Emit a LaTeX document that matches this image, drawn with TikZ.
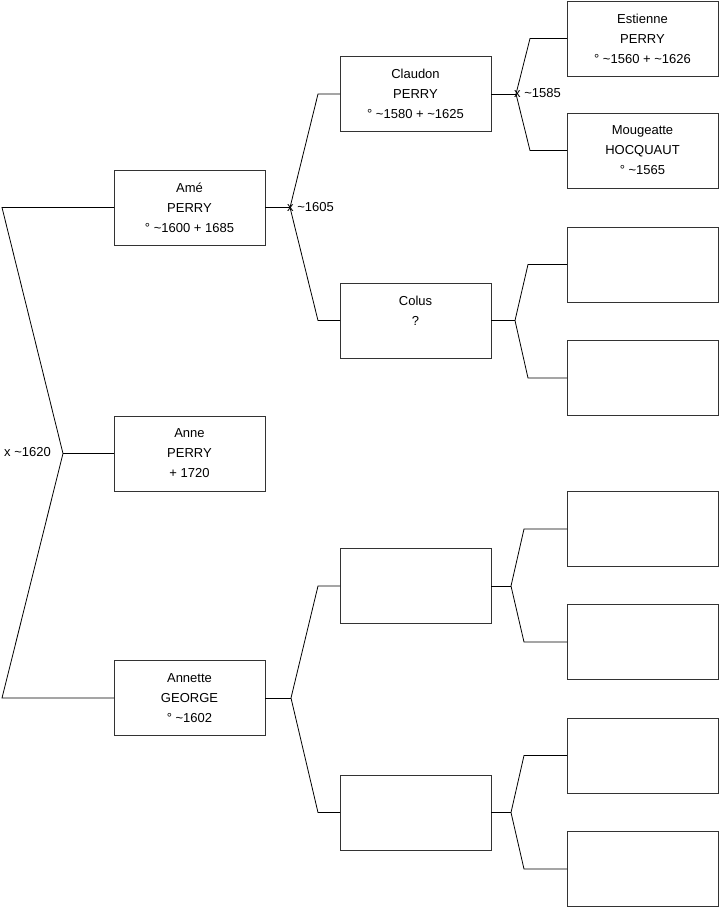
\documentclass[tikz,border=0pt]{standalone}
\usepackage{fontspec}
\setmainfont{Liberation Sans}
\usetikzlibrary{positioning}

\newcommand{\circa}{\textasciitilde}

\begin{document}
\begin{tikzpicture}[x=1pt, y=-1pt,
    person/.style={draw=black!80, line width=0.8pt, minimum width=151pt, minimum height=75pt,
        inner sep=0pt, outer sep=0pt, align=center, font=\fontsize{13}{20}\selectfont},
    link/.style={draw=black, line width=0.8pt},
    union/.style={inner sep=0pt, font=\fontsize{13}{15}\selectfont}]
    \useasboundingbox (0,0) rectangle (719,908);

    % Generation 1
    \node[person] (ame) at (189.5,207.5) {Amé\\PERRY\\° \circa1600 + 1685};
    \node[person] (anne) at (189.5,453.5) {Anne\\PERRY\\+ 1720};
    \node[person] (annette) at (189.5,698) {Annette\\GEORGE\\° \circa1602};

    % Generation 2
    \node[person] (claudon) at (415.5,94) {Claudon\\PERRY\\° \circa1580 + \circa1625};
    \node[person] (colus) at (415.5,320.5) {Colus\\?\\\mbox{}};
    \node[person] (gp3) at (415.5,586) {};
    \node[person] (gp4) at (415.5,812.5) {};

    % Generation 3
    \node[person] (estienne) at (642.5,38.5) {Estienne\\PERRY\\° \circa1560 + \circa1626};
    \node[person] (mougeatte) at (642.5,150.5) {Mougeatte\\HOCQUAUT\\° \circa1565};
    \node[person] (ggp3) at (642.5,264.5) {};
    \node[person] (ggp4) at (642.5,378) {};
    \node[person] (ggp5) at (642.5,529) {};
    \node[person] (ggp6) at (642.5,642) {};
    \node[person] (ggp7) at (642.5,755.5) {};
    \node[person] (ggp8) at (642.5,869) {};

    % Marriages
    \coordinate (m0) at (63,453.5);
    \draw[link] (ame.west) -- ++(-112,0) -- (m0) -- ([xshift=-112pt]annette.west) -- (annette.west);
    \draw[link] (m0) -- (anne.west);
    \node[union, anchor=east] (u0) at (51,452) {x \circa1620};

    \coordinate (m1) at ([xshift=25pt]ame.east);
    \draw[link] (ame.east) -- (m1);
    \draw[link] (claudon.west) -- ++(-22,0) -- (m1) -- ([xshift=-22pt]colus.west) -- (colus.west);
    \node[union, anchor=west] (u1) at (287,207) {x \circa1605};

    \coordinate (m2) at ([xshift=25pt]claudon.east);
    \draw[link] (claudon.east) -- (m2);
    \draw[link] (estienne.west) -- ++(-37,0) -- (m2) -- ([xshift=-37pt]mougeatte.west) -- (mougeatte.west);
    \node[union, anchor=west] (u2) at (514,93) {x \circa1585};

    \coordinate (m3) at ([xshift=24pt]colus.east);
    \draw[link] (colus.east) -- (m3);
    \draw[link] (ggp3.west) -- ++(-39,0) -- (m3) -- ([xshift=-39pt]ggp4.west) -- (ggp4.west);

    \coordinate (m4) at ([xshift=26pt]annette.east);
    \draw[link] (annette.east) -- (m4);
    \draw[link] (gp3.west) -- ++(-22,0) -- (m4) -- ([xshift=-22pt]gp4.west) -- (gp4.west);

    \coordinate (m5) at ([xshift=20pt]gp3.east);
    \draw[link] (gp3.east) -- (m5);
    \draw[link] (ggp5.west) -- ++(-43,0) -- (m5) -- ([xshift=-43pt]ggp6.west) -- (ggp6.west);

    \coordinate (m6) at ([xshift=20pt]gp4.east);
    \draw[link] (gp4.east) -- (m6);
    \draw[link] (ggp7.west) -- ++(-43,0) -- (m6) -- ([xshift=-43pt]ggp8.west) -- (ggp8.west);
\end{tikzpicture}
\end{document}
